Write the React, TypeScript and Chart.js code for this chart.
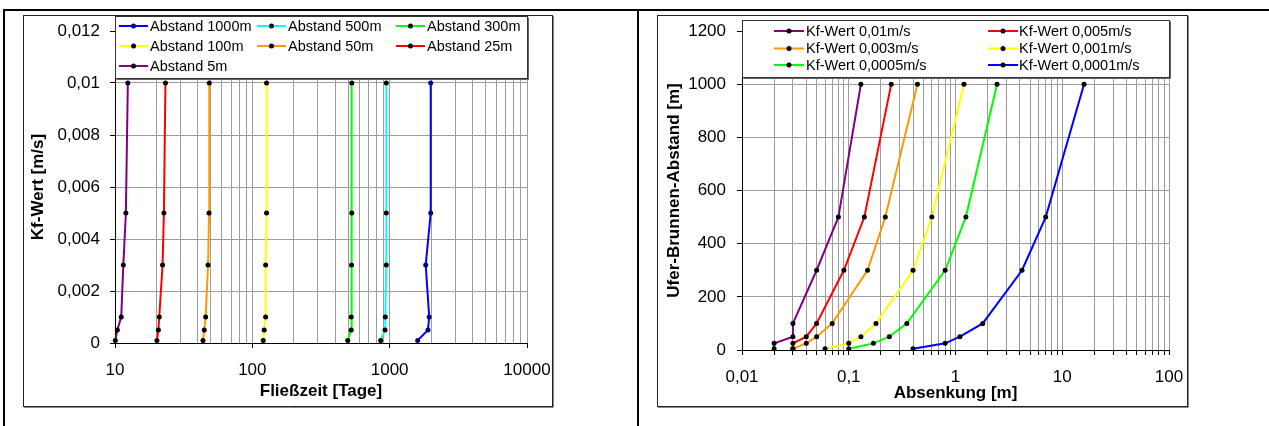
import React, { useEffect, useRef } from 'react';
import { Chart, registerables } from 'chart.js';

Chart.register(...registerables);

const FONT = "'Liberation Sans', Arial, Helvetica, sans-serif";
const GRID = '#9c9c9c';

// ---------- Left chart data: Fließzeit vs Kf-Wert ----------
const kfLevels = [0.0001, 0.0005, 0.001, 0.003, 0.005, 0.01];
const abstandLabels = ['Abstand 1000m', 'Abstand 500m', 'Abstand 300m', 'Abstand 100m', 'Abstand 50m', 'Abstand 25m', 'Abstand 5m'];
const time1000 = [1600, 1900, 1940, 1830, 1990, 1990];
const time500 = [860, 925, 930, 945, 945, 945];
const time300 = [495, 525, 525, 528, 530, 530];
const time100 = [120, 122, 125, 125, 127, 127];
const time50 = [43.7, 44.7, 45.7, 47.6, 48.4, 48.6];
const time25 = [20.2, 20.7, 21.0, 22.2, 22.7, 23.3];
const time5 = [10.05, 10.4, 11.1, 11.5, 12.0, 12.4];
const leftXDecades = [10, 100, 1000, 10000];
const leftXTickLabels = ['10', '100', '1000', '10000'];
const leftYTickValues = [0, 0.002, 0.004, 0.006, 0.008, 0.01, 0.012];
const leftYTickLabels = ['0', '0,002', '0,004', '0,006', '0,008', '0,01', '0,012'];

// ---------- Right chart data: Absenkung vs Ufer-Brunnen-Abstand ----------
const distances = [5, 25, 50, 100, 300, 500, 1000];
const kfLabels = ['Kf-Wert 0,01m/s', 'Kf-Wert 0,005m/s', 'Kf-Wert 0,003m/s', 'Kf-Wert 0,001m/s', 'Kf-Wert 0,0005m/s', 'Kf-Wert 0,0001m/s'];
const abs001 = [0.02, 0.02, 0.03, 0.03, 0.05, 0.08, 0.13];
const abs0005 = [0.03, 0.03, 0.04, 0.05, 0.09, 0.14, 0.25];
const abs0003 = [0.03, 0.04, 0.05, 0.07, 0.15, 0.22, 0.44];
const abs0001 = [0.06, 0.1, 0.13, 0.18, 0.4, 0.6, 1.2];
const abs00005 = [0.1, 0.17, 0.24, 0.35, 0.8, 1.25, 2.45];
const abs00001 = [0.4, 0.8, 1.1, 1.8, 4.2, 7, 16];
const rightXDecades = [0.01, 0.1, 1, 10, 100];
const rightXTickLabels = ['0,01', '0,1', '1', '10', '100'];
const rightYTickValues = [0, 200, 400, 600, 800, 1000, 1200];
const rightYTickLabels = ['0', '200', '400', '600', '800', '1000', '1200'];

const PURPLE = '#800080';
const RED = '#ff0000';
const ORANGE = '#ff9900';
const YELLOW = '#ffff00';
const GREEN = '#00ff00';
const CYAN = '#00ffff';
const BLUE = '#0000ff';

function logGrid(decades: number[]) {
  const out: number[] = [];
  for (let i = 0; i < decades.length - 1; i++) {
    for (let m = 1; m <= 9; m++) out.push(parseFloat((decades[i] * m).toPrecision(6)));
  }
  out.push(decades[decades.length - 1]);
  return out;
}

function decadeIndex(decades: number[], v: number) {
  return decades.findIndex((d) => Math.abs(d - v) / d < 1e-9);
}

function zeroPad(s: any) {
  s.paddingLeft = 0;
  s.paddingRight = 0;
  s.paddingTop = 0;
  s.paddingBottom = 0;
}

type LegendItem = { text: string; color: string; marker: string; sx: number; sw: number; tx: number; y: number };
type LegendCfg = { box: { x: number; y: number; w: number; h: number }; items: LegendItem[] };

function framePlugin(legend: LegendCfg) {
  return {
    id: 'frameAndLegend',
    beforeDraw(chart: any) {
      const { ctx, width, height } = chart;
      ctx.save();
      ctx.fillStyle = '#ffffff';
      ctx.fillRect(0, 0, width, height);
      ctx.restore();
    },
    afterDraw(chart: any) {
      const { ctx, width, height } = chart;
      ctx.save();
      const b = legend.box;
      ctx.fillStyle = '#ffffff';
      ctx.fillRect(b.x, b.y, b.w, b.h);
      ctx.strokeStyle = '#333333';
      ctx.lineWidth = 1;
      ctx.strokeRect(b.x, b.y, b.w, b.h);
      ctx.strokeStyle = '#666666';
      ctx.beginPath();
      ctx.moveTo(b.x + b.w + 1, b.y + 1);
      ctx.lineTo(b.x + b.w + 1, b.y + b.h + 1);
      ctx.lineTo(b.x + 1, b.y + b.h + 1);
      ctx.stroke();
      ctx.font = `14.5px ${FONT}`;
      ctx.textBaseline = 'middle';
      ctx.textAlign = 'left';
      for (const it of legend.items) {
        ctx.strokeStyle = it.color;
        ctx.lineWidth = 2;
        ctx.beginPath();
        ctx.moveTo(it.sx, it.y);
        ctx.lineTo(it.sx + it.sw, it.y);
        ctx.stroke();
        ctx.fillStyle = it.marker;
        ctx.beginPath();
        ctx.arc(it.sx + it.sw / 2, it.y, 2.5, 0, Math.PI * 2);
        ctx.fill();
        ctx.fillStyle = '#000000';
        ctx.fillText(it.text, it.tx, it.y + 0.5);
      }
      ctx.strokeStyle = '#222222';
      ctx.lineWidth = 1;
      ctx.strokeRect(0.5, 0.5, width - 2, height - 2);
      ctx.strokeStyle = '#888888';
      ctx.beginPath();
      ctx.moveTo(width - 0.5, 1);
      ctx.lineTo(width - 0.5, height - 0.5);
      ctx.lineTo(1, height - 0.5);
      ctx.stroke();
      ctx.restore();
    },
  };
}

function series(label: string, xs: number[], ys: number[], color: string, marker: string) {
  return {
    label,
    data: ys.map((y, i) => ({ x: xs[i], y })),
    borderColor: color,
    backgroundColor: color,
    borderWidth: 2,
    pointRadius: 2.5,
    pointHoverRadius: 2.5,
    pointBackgroundColor: marker,
    pointBorderColor: marker,
    pointBorderWidth: 0,
    tension: 0,
    clip: false as any,
  };
}

const tickFont = { family: FONT, size: 17 };
const titleFont = { family: FONT, size: 17, weight: 'bold' as const };

function leftConfig(): any {
  const grid = logGrid(leftXDecades);
  const legend: LegendCfg = {
    box: { x: 92.5, y: 1.5, w: 412, h: 62 },
    items: [
      { text: abstandLabels[0], color: BLUE, marker: '#000080', sx: 96, sw: 29, tx: 127, y: 11 },
      { text: abstandLabels[1], color: CYAN, marker: '#000000', sx: 234, sw: 29, tx: 265, y: 11 },
      { text: abstandLabels[2], color: GREEN, marker: '#000000', sx: 373, sw: 29, tx: 404, y: 11 },
      { text: abstandLabels[3], color: YELLOW, marker: '#000000', sx: 96, sw: 29, tx: 127, y: 31 },
      { text: abstandLabels[4], color: ORANGE, marker: '#000000', sx: 234, sw: 29, tx: 265, y: 31 },
      { text: abstandLabels[5], color: RED, marker: '#000000', sx: 373, sw: 29, tx: 404, y: 31 },
      { text: abstandLabels[6], color: PURPLE, marker: '#000000', sx: 96, sw: 29, tx: 127, y: 51 },
    ],
  };
  return {
    type: 'line',
    data: {
      datasets: [
        series(abstandLabels[0], time1000, kfLevels, BLUE, '#000080'),
        series(abstandLabels[1], time500, kfLevels, CYAN, '#000000'),
        series(abstandLabels[2], time300, kfLevels, GREEN, '#000000'),
        series(abstandLabels[3], time100, kfLevels, YELLOW, '#000000'),
        series(abstandLabels[4], time50, kfLevels, ORANGE, '#000000'),
        series(abstandLabels[5], time25, kfLevels, RED, '#000000'),
        series(abstandLabels[6], time5, kfLevels, PURPLE, '#000000'),
      ],
    },
    options: {
      responsive: false,
      animation: false,
      events: [],
      layout: { padding: { left: 0, right: 27, top: 16, bottom: 0 } },
      plugins: { legend: { display: false }, tooltip: { enabled: false } },
      scales: {
        x: {
          type: 'logarithmic',
          position: 'bottom',
          min: 10,
          max: 10000,
          afterBuildTicks: (s: any) => {
            s.ticks = grid.map((v) => ({ value: v }));
          },
          afterFit: (s: any) => {
            s.height = 65;
            zeroPad(s);
          },
          ticks: {
            autoSkip: false,
            maxRotation: 0,
            minRotation: 0,
            padding: 12,
            color: '#000',
            font: tickFont,
            callback: (v: number) => {
              const i = decadeIndex(leftXDecades, v);
              return i >= 0 ? leftXTickLabels[i] : '';
            },
          },
          grid: {
            color: GRID,
            lineWidth: 1,
            tickLength: 5,
            tickColor: (c: any) => (c.tick && decadeIndex(leftXDecades, c.tick.value) >= 0 ? '#000' : 'rgba(0,0,0,0)'),
          },
          border: { color: '#000', width: 1 },
          title: { display: true, text: 'Fließzeit [Tage]', color: '#000', font: titleFont, padding: { top: 0, bottom: 6.8 } },
        },
        y: {
          type: 'linear',
          min: 0,
          max: 0.012,
          afterBuildTicks: (s: any) => {
            s.ticks = leftYTickValues.map((v) => ({ value: v }));
          },
          afterFit: (s: any) => {
            s.width = 92;
            zeroPad(s);
          },
          ticks: {
            padding: 10,
            color: '#000',
            font: tickFont,
            callback: (_v: number, i: number) => leftYTickLabels[i],
          },
          grid: { color: GRID, lineWidth: 1, tickLength: 5, tickColor: '#000' },
          border: { color: '#000', width: 1 },
          title: { display: true, text: 'Kf-Wert [m/s]', color: '#000', font: titleFont, padding: { top: 5.3, bottom: 0 } },
        },
      },
    },
    plugins: [framePlugin(legend)],
  };
}

function rightConfig(): any {
  const grid = logGrid(rightXDecades);
  const legend: LegendCfg = {
    box: { x: 85.5, y: 5.5, w: 427, h: 57 },
    items: [
      { text: kfLabels[0], color: PURPLE, marker: '#000', sx: 117, sw: 30, tx: 149, y: 16 },
      { text: kfLabels[1], color: RED, marker: '#000', sx: 331, sw: 30, tx: 362, y: 16 },
      { text: kfLabels[2], color: ORANGE, marker: '#000', sx: 117, sw: 30, tx: 149, y: 33.5 },
      { text: kfLabels[3], color: YELLOW, marker: '#000', sx: 331, sw: 30, tx: 362, y: 33.5 },
      { text: kfLabels[4], color: GREEN, marker: '#000', sx: 117, sw: 30, tx: 149, y: 50 },
      { text: kfLabels[5], color: BLUE, marker: '#000', sx: 331, sw: 30, tx: 362, y: 50 },
    ],
  };
  return {
    type: 'line',
    data: {
      datasets: [
        series(kfLabels[0], abs001, distances, PURPLE, '#000'),
        series(kfLabels[1], abs0005, distances, RED, '#000'),
        series(kfLabels[2], abs0003, distances, ORANGE, '#000'),
        series(kfLabels[3], abs0001, distances, YELLOW, '#000'),
        series(kfLabels[4], abs00005, distances, GREEN, '#000'),
        series(kfLabels[5], abs00001, distances, BLUE, '#000'),
      ],
    },
    options: {
      responsive: false,
      animation: false,
      events: [],
      layout: { padding: { left: 0, right: 20, top: 16, bottom: 0 } },
      plugins: { legend: { display: false }, tooltip: { enabled: false } },
      scales: {
        x: {
          type: 'logarithmic',
          position: 'bottom',
          min: 0.01,
          max: 100,
          afterBuildTicks: (s: any) => {
            s.ticks = grid.map((v) => ({ value: v }));
          },
          afterFit: (s: any) => {
            s.height = 58;
            zeroPad(s);
          },
          ticks: {
            autoSkip: false,
            maxRotation: 0,
            minRotation: 0,
            padding: 12,
            color: '#000',
            font: tickFont,
            callback: (v: number) => {
              const i = decadeIndex(rightXDecades, v);
              return i >= 0 ? rightXTickLabels[i] : '';
            },
          },
          grid: { color: GRID, lineWidth: 1, tickLength: 5, tickColor: '#000' },
          border: { color: '#000', width: 1 },
          title: { display: true, text: 'Absenkung [m]', color: '#000', font: titleFont, padding: { top: 0, bottom: 4.8 } },
        },
        y: {
          type: 'linear',
          min: 0,
          max: 1200,
          afterBuildTicks: (s: any) => {
            s.ticks = rightYTickValues.map((v) => ({ value: v }));
          },
          afterFit: (s: any) => {
            s.width = 85;
            zeroPad(s);
          },
          ticks: {
            padding: 11,
            color: '#000',
            font: tickFont,
            callback: (_v: number, i: number) => rightYTickLabels[i],
          },
          grid: { color: GRID, lineWidth: 1, tickLength: 5, tickColor: '#000' },
          border: { color: '#000', width: 1 },
          title: { display: true, text: 'Ufer-Brunnen-Abstand [m]', color: '#000', font: titleFont, padding: { top: 6.8, bottom: 0 } },
        },
      },
    },
    plugins: [framePlugin(legend)],
  };
}

function ChartCanvas(props: { make: () => any; left: number; top: number; width: number; height: number }) {
  const ref = useRef<HTMLCanvasElement | null>(null);
  useEffect(() => {
    if (!ref.current) return;
    const chart = new Chart(ref.current, props.make());
    return () => chart.destroy();
  }, []);
  return (
    <canvas
      ref={ref}
      width={props.width}
      height={props.height}
      style={{ position: 'absolute', left: props.left, top: props.top, width: props.width, height: props.height }}
    />
  );
}

export default function App() {
  return (
    <div style={{ position: 'absolute', left: 0, top: 0, width: 1269, height: 426, background: '#fff', overflow: 'hidden' }}>
      <div style={{ position: 'absolute', left: 3, top: 9, width: 1266, height: 2, background: '#000' }} />
      <div style={{ position: 'absolute', left: 3, top: 9, width: 2, height: 417, background: '#000' }} />
      <div style={{ position: 'absolute', left: 637, top: 9, width: 2, height: 417, background: '#000' }} />
      <ChartCanvas make={leftConfig} left={23} top={15} width={531} height={393} />
      <ChartCanvas make={rightConfig} left={657} top={15} width={532} height={393} />
    </div>
  );
}
